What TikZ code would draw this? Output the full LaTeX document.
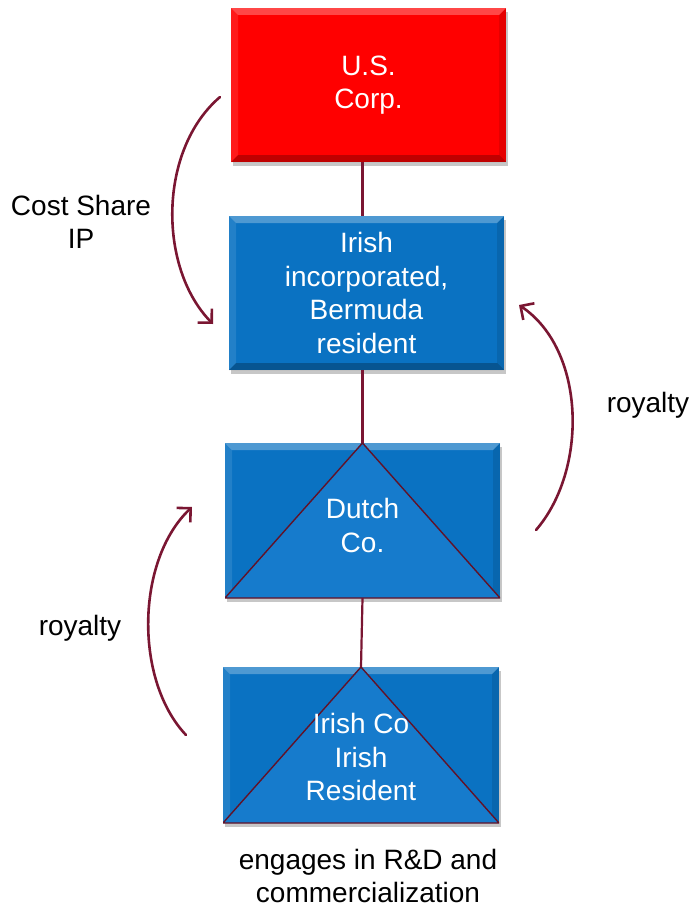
\documentclass[tikz,border=0pt]{standalone}
\usepackage{fontspec}
\setmainfont{Liberation Sans}
\usetikzlibrary{arrows.meta,shadows,calc}

\definecolor{corpred}{HTML}{FF0000}
\definecolor{corpblue}{HTML}{0A72C2}
\definecolor{tricol}{HTML}{167BCC}
\definecolor{link}{HTML}{7A1632}

% bevelled edges of a box: light top/left, dark bottom/right
\newcommand\bevelfaces[1]{%
  \coordinate (bNW) at (path picture bounding box.north west);
  \coordinate (bNE) at (path picture bounding box.north east);
  \coordinate (bSW) at (path picture bounding box.south west);
  \coordinate (bSE) at (path picture bounding box.south east);
  \fill[white,opacity=.28] (bNW) -- (bNE) -- ([shift={(-#1,-#1)}]bNE) -- ([shift={(#1,-#1)}]bNW) -- cycle;
  \fill[white,opacity=.10] (bNW) -- (bSW) -- ([shift={(#1,#1)}]bSW) -- ([shift={(#1,-#1)}]bNW) -- cycle;
  \fill[black,opacity=.25] (bSW) -- (bSE) -- ([shift={(-#1,#1)}]bSE) -- ([shift={(#1,#1)}]bSW) -- cycle;
  \fill[black,opacity=.10] (bNE) -- (bSE) -- ([shift={(-#1,#1)}]bSE) -- ([shift={(-#1,-#1)}]bNE) -- cycle;
}
% triangle inscribed in a box, apex at the top middle
\newcommand\insettriangle{%
  \filldraw[fill=tricol,draw=link!80!black,line width=1.4pt,line join=round]
    (path picture bounding box.south west) -- (path picture bounding box.north)
    -- (path picture bounding box.south east) -- cycle;
}

\tikzset{
  entity/.style={rectangle, inner sep=0pt, minimum width=275pt, minimum height=154pt,
    text=white, align=center, font=\fontsize{28}{33.5}\selectfont,
    drop shadow={shadow xshift=2pt, shadow yshift=-4pt, opacity=.22, fill=black}},
  redbox/.style={entity, fill=corpred, path picture={\bevelfaces{7pt}}},
  bluebox/.style={entity, fill=corpblue, path picture={\bevelfaces{7pt}}},
  tribox/.style={entity, fill=corpblue, path picture={\bevelfaces{7pt}\insettriangle}},
  boxtext/.style={text=white, align=center, font=\fontsize{28}{33.5}\selectfont, inner sep=0pt},
  lbl/.style={text=black, align=center, font=\fontsize{28}{33.5}\selectfont, inner sep=0pt},
  link/.style={draw=link, line width=2.2pt},
  flow/.style={draw=link, line width=2.6pt, line cap=round,
    -{Straight Barb[length=10pt,width=20pt,line width=2.6pt]}},
}

\begin{document}
\begin{tikzpicture}[x=1pt, y=-1pt]
  \useasboundingbox (0,0) rectangle (691,907);

  % ownership chain
  \node[redbox]  (us)    at (368.5,85)  {U.S.\\Corp.};
  \node[bluebox] (irl)   at (366.5,293) {Irish\\incorporated,\\Bermuda\\resident};
  \node[tribox, minimum height=155pt] (dutch) at (362.5,520.5) {};
  \node[tribox, minimum width=276pt, minimum height=156pt] (irco) at (361,745) {};
  \node[boxtext] (dutchtxt) at ([yshift=-5pt]dutch.center) {Dutch\\Co.};
  \node[boxtext] (ircotxt)  at ([yshift=-12pt]irco.center) {Irish Co\\Irish\\Resident};

  % vertical links
  \draw[link] (dutch.north |- us.south) -- (dutch.north |- irl.north);
  \draw[link] (dutch.north |- irl.south) -- (dutch.north);
  \draw[link] (dutch.south) -- (irco.north);

  % flows
  \coordinate (csA) at (220,97);
  \coordinate (csB) at (213,324);
  \coordinate (rrA) at (536,530);
  \coordinate (rrB) at (519,305);
  \coordinate (rlA) at (186,735);
  \coordinate (rlB) at (192,507);
  \draw[flow] (csA) .. controls (158,150) and (158,268) .. (csB);
  \draw[flow] (rrA) .. controls (588,470) and (586,350) .. (rrB);
  \draw[flow] (rlA) .. controls (134,680) and (136,560) .. (rlB);

  % labels
  \node[lbl] (costshare) at (81,222)  {Cost Share\\IP};
  \node[lbl] (royR)      at (648,405) {royalty};
  \node[lbl] (royL)      at (80,628)  {royalty};
  \node[lbl] (rd)        at (368,876) {engages in R\&D and\\commercialization};
\end{tikzpicture}
\end{document}
